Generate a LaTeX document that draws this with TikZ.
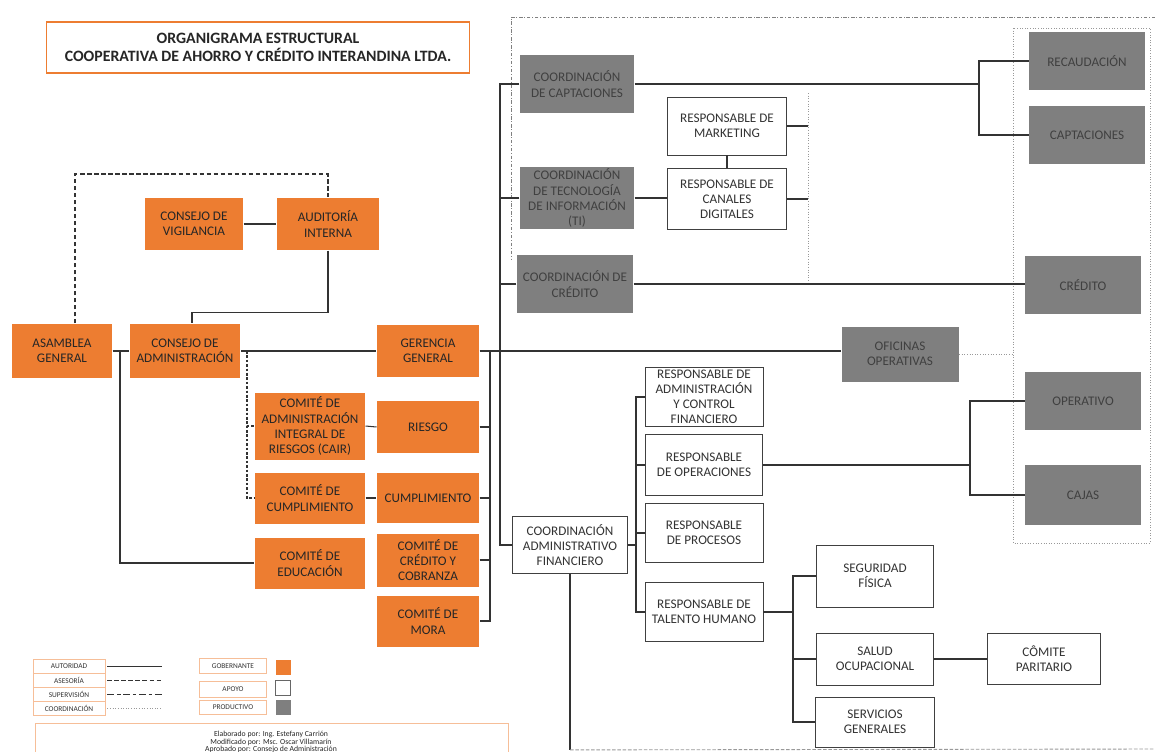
\documentclass[tikz,border=0pt]{standalone}
\usepackage{fontspec}
\setmainfont{Carlito}
\definecolor{gobnar}{RGB}{237,125,49}
\definecolor{prodgris}{RGB}{127,127,127}
\tikzset{
  gob/.style={fill=gobnar, text=black!85, align=center, inner sep=1pt},
  apo/.style={draw=black!75, line width=0.5pt, fill=white, align=center, inner sep=1pt},
  prod/.style={fill=prodgris, text=black!75, align=center, inner sep=1pt},
  asesoria/.style={dash pattern=on 2.5pt off 1.5pt},
  superv/.style={dash pattern=on 1.5pt off 1pt},
  coordin/.style={densely dotted, black!40, line width=0.5pt},
  leyenda/.style={draw=gobnar!50, line width=0.4pt, font=\fontsize{4.2}{5}\selectfont, inner sep=0.5pt},
}
\begin{document}
\begin{tikzpicture}[x=0.02cm, y=-0.02cm, font=\fontsize{7.5}{8.6}\selectfont, line width=0.6pt, color=black!80]
    \useasboundingbox (0,0) rectangle (1155,751);
    \fill[white] (0,0) rectangle (1155,751);
    % titulo
    \node[draw=gobnar, line width=1pt, fill=white, minimum width=8.46cm, minimum height=1.02cm,
    align=center, text=black!85, font=\fontsize{9}{10.4}\selectfont\bfseries]
    (titulo) at (258,47.5) {ORGANIGRAMA ESTRUCTURAL\\COOPERATIVA DE AHORRO Y CRÉDITO INTERANDINA LTDA.};
    % marcos de coordinacion
    \draw[black!50, line width=0.5pt, dash pattern=on 2pt off 1pt on 0.5pt off 1pt] (1155,17) -- (511,17) -- (511,260);
    \draw[coordin] (1013,28) rectangle (1150,543);
    \draw[coordin] (808,93) -- (808,285);
    % gobernantes
    \node[gob, minimum width=2.0cm, minimum height=1.08cm] (asamblea) at (62,351) {ASAMBLEA\\GENERAL};
    \node[gob, minimum width=2.22cm, minimum height=1.08cm] (cadm) at (185,351) {CONSEJO DE\\ADMINISTRACIÓN};
    \node[gob, minimum width=1.96cm, minimum height=1.04cm] (cvig) at (194,224) {CONSEJO DE\\VIGILANCIA};
    \node[gob, minimum width=2.04cm, minimum height=1.04cm] (audit) at (328,224) {AUDITORÍA\\INTERNA};
    \node[gob, minimum width=2.04cm, minimum height=1.04cm] (gerencia) at (428,351) {GERENCIA\\GENERAL};
    \node[gob, minimum width=2.2cm, minimum height=1.34cm] (cair) at (310,426) {COMITÉ DE\\ADMINISTRACIÓN\\INTEGRAL DE\\RIESGOS (CAIR)};
    \node[gob, minimum width=2.04cm, minimum height=1.04cm] (riesgo) at (428,427) {RIESGO};
    \node[gob, minimum width=2.2cm, minimum height=1.02cm] (ccump) at (310,498) {COMITÉ DE\\CUMPLIMIENTO};
    \node[gob, minimum width=2.04cm, minimum height=1.0cm] (cumpl) at (428,498) {CUMPLIMIENTO};
    \node[gob, minimum width=2.2cm, minimum height=1.02cm] (cedu) at (310,563) {COMITÉ DE\\EDUCACIÓN};
    \node[gob, minimum width=2.04cm, minimum height=1.06cm] (ccred) at (428,560) {COMITÉ DE\\CRÉDITO Y\\COBRANZA};
    \node[gob, minimum width=2.04cm, minimum height=1.02cm] (mora) at (428,621) {COMITÉ DE\\MORA};
    % productivos
    \node[prod, minimum width=2.28cm, minimum height=1.16cm] (coordcap) at (577,84) {COORDINACIÓN\\DE CAPTACIONES};
    \node[prod, minimum width=2.28cm, minimum height=1.2cm] (coordti) at (577,198) {COORDINACIÓN\\DE TECNOLOGÍA\\DE INFORMACIÓN\\(TI)};
    \node[prod, minimum width=2.32cm, minimum height=1.16cm] (coordcred) at (575,284) {COORDINACIÓN DE\\CRÉDITO};
    \node[prod, minimum width=2.32cm, minimum height=1.18cm] (recaud) at (1087,61) {RECAUDACIÓN};
    \node[prod, minimum width=2.32cm, minimum height=1.16cm] (captac) at (1087,135) {CAPTACIONES};
    \node[prod, minimum width=2.32cm, minimum height=1.16cm] (credito) at (1083,285) {CRÉDITO};
    \node[prod, minimum width=2.34cm, minimum height=1.1cm] (oficinas) at (900,354) {OFICINAS\\OPERATIVAS};
    \node[prod, minimum width=2.32cm, minimum height=1.16cm] (operativo) at (1083,401) {OPERATIVO};
    \node[prod, minimum width=2.32cm, minimum height=1.2cm] (cajas) at (1083,495) {CAJAS};
    % apoyo
    \node[apo, minimum width=2.38cm, minimum height=1.16cm] (marketing) at (727,126) {RESPONSABLE DE\\MARKETING};
    \node[apo, minimum width=2.38cm, minimum height=1.22cm] (canales) at (727,199) {RESPONSABLE DE\\CANALES\\DIGITALES};
    \node[apo, minimum width=2.36cm, minimum height=1.18cm] (raf) at (704,397) {RESPONSABLE DE\\ADMINISTRACIÓN\\Y CONTROL\\FINANCIERO};
    \node[apo, minimum width=2.34cm, minimum height=1.22cm] (roper) at (704,465) {RESPONSABLE\\DE OPERACIONES};
    \node[apo, minimum width=2.36cm, minimum height=1.18cm] (rproc) at (704,533) {RESPONSABLE\\DE PROCESOS};
    \node[apo, minimum width=2.3cm, minimum height=1.14cm] (caf) at (570,545) {COORDINACIÓN\\ADMINISTRATIVO\\FINANCIERO};
    \node[apo, minimum width=2.36cm, minimum height=1.18cm] (rth) at (704,612) {RESPONSABLE DE\\TALENTO HUMANO};
    \node[apo, minimum width=2.34cm, minimum height=1.24cm] (segur) at (875,576) {SEGURIDAD\\FÍSICA};
    \node[apo, minimum width=2.34cm, minimum height=1.04cm] (salud) at (875,659) {SALUD\\OCUPACIONAL};
    \node[apo, minimum width=2.38cm, minimum height=1.0cm] (servicios) at (875,722) {SERVICIOS\\GENERALES};
    \node[apo, minimum width=2.26cm, minimum height=1.02cm] (paritario) at (1044,659) {CÔMITE\\PARITARIO};
    % puntos de union
    \coordinate (ases) at (200,174);
    \coordinate (j1) at (120,351);
    \coordinate (j2) at (247,351);
    \coordinate (j3) at (490,351);
    \coordinate (j4) at (500,0);
    \coordinate (j5) at (979,84);
    \coordinate (j6) at (808,0);
    \coordinate (j7) at (970,465);
    \coordinate (j8) at (636,545);
    \coordinate (j9) at (793,612);
    % lineas
    \draw[asesoria] ([xshift=0.26cm]asamblea.north) |- (ases) -| (audit.north);
    \draw (cvig.east) -- (audit.west);
    \draw (audit.south) -- ++(0,62) -| ([xshift=0.14cm]cadm.north);
    \draw (asamblea.east) -- (cadm.west);
    \draw (cadm.east) -- (gerencia.west);
    \draw (j1) |- (cedu.west);
    \draw[superv] (j2) |- (cair.west);
    \draw[superv] (j2) |- (ccump.west);
    \draw (cair.east) -- (riesgo.west);
    \draw (ccump.east) -- (cumpl.west);
    \draw (j3) |- (mora.east);
    \draw (riesgo.east) -- (riesgo.east -| j3);
    \draw (cumpl.east) -- (cumpl.east -| j3);
    \draw (ccred.east) -- (ccred.east -| j3);
    \draw (gerencia.east) -- (gerencia.east -| oficinas.west);
    \draw (coordcap.west) -- (coordcap.west -| j4) -- (caf.west -| j4) -- (caf.west);
    \draw (coordti.west) -- (coordti.west -| j4);
    \draw (coordcred.west) -- (coordcred.west -| j4);
    \draw (coordcap.east) -- (j5);
    \draw (recaud.west) -| (j5) |- (captac.west);
    \draw (coordti.east) -- (coordti.east -| canales.west);
    \draw (marketing.south) -- (canales.north);
    \draw (marketing.east) -- (marketing.east -| j6);
    \draw (canales.east) -- (canales.east -| j6);
    \draw (coordcred.east) -- (coordcred.east -| credito.west);
    \draw[coordin] (oficinas.east) -- (oficinas.east -| 1013,0);
    \draw (roper.east) -- (j7);
    \draw (operativo.west) -| (j7) |- (cajas.west);
    \draw (caf.east) -- (j8);
    \draw (raf.west) -| (j8) |- (rth.west);
    \draw (roper.west) -- (roper.west -| j8);
    \draw (rproc.west) -- (rproc.west -| j8);
    \draw (caf.south) -- ++(0,176);
    \draw[black!40, line width=0.5pt, dash pattern=on 2pt off 1pt] ([yshift=-3.52cm]caf.south) -- (1155,749);
    \draw (rth.east) -- (j9);
    \draw (segur.west) -| (j9) |- (servicios.west);
    \draw (salud.west) -- (salud.west -| j9);
    \draw (salud.east) -- (paritario.west);
    % leyenda
    \foreach \t [count=\i] in {AUTORIDAD, ASESORÍA, SUPERVISIÓN, COORDINACIÓN}
        \node[leyenda, minimum width=1.44cm, minimum height=0.28cm] (leg\i) at (69,652+14*\i) {\t};
    \draw[line width=0.5pt] ([xshift=0.04cm]leg1.east) -- ++(55,0);
    \draw[line width=0.5pt, asesoria] ([xshift=0.04cm]leg2.east) -- ++(55,0);
    \draw[line width=0.5pt, dash pattern=on 4pt off 1.5pt on 2pt off 1.5pt] ([xshift=0.04cm]leg3.east) -- ++(55,0);
    \draw[coordin] ([xshift=0.04cm]leg4.east) -- ++(55,0);
    \node[leyenda, minimum width=1.34cm, minimum height=0.3cm] (lgob) at (233,666) {GOBERNANTE};
    \node[leyenda, minimum width=1.34cm, minimum height=0.32cm] (lapo) at (233,689) {APOYO};
    \node[leyenda, minimum width=1.34cm, minimum height=0.28cm] (lprod) at (233,707) {PRODUCTIVO};
    \node[fill=gobnar, minimum size=0.3cm, inner sep=0pt] (cgob) at (283,667) {};
    \node[draw=black!60, line width=0.4pt, fill=white, minimum size=0.3cm, inner sep=0pt] (capo) at (283,688) {};
    \node[fill=prodgris, minimum size=0.3cm, inner sep=0pt] (cprod) at (283,707) {};
    % firmas
    \draw[gobnar!50, line width=0.4pt] (35,723) rectangle (508,775);
    \node[anchor=north, align=center, inner sep=0pt, text=black!85, font=\fontsize{4.4}{4.1}\selectfont]
    (firmas) at (271,731) {Elaborado por: Ing. Estefany Carrión\\Modificado por: Msc. Oscar Villamarín\\Aprobado por: Consejo de Administración};
\end{tikzpicture}
\end{document}
